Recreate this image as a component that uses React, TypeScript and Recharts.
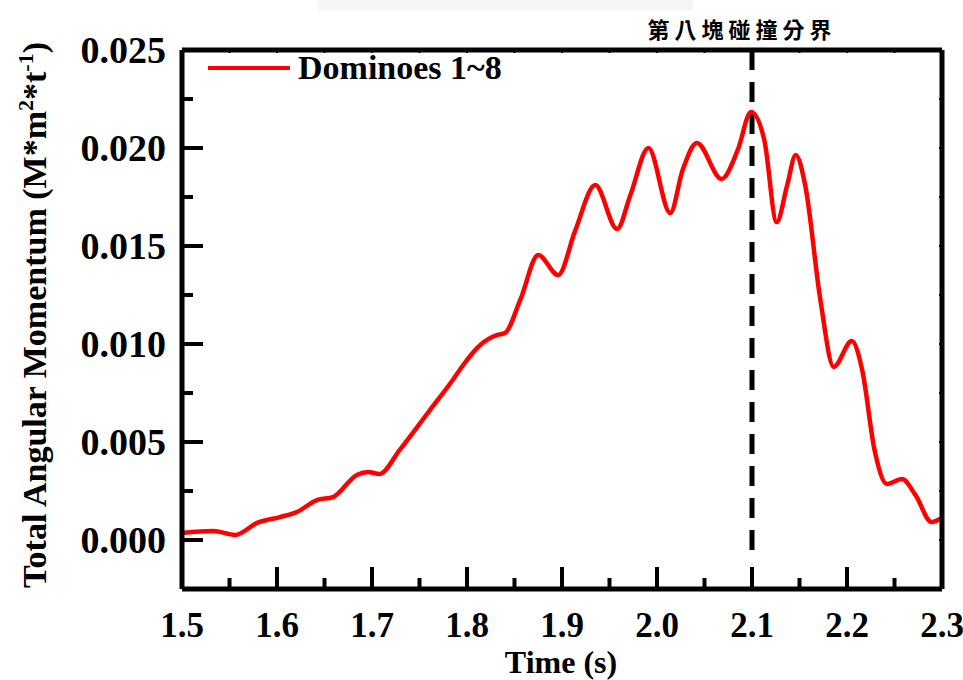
import React from "react";
import { LineChart, Line, XAxis, YAxis, ReferenceLine } from "recharts";

// time (s) and total angular momentum
const time = [
  1.5, 1.533, 1.556, 1.579, 1.603, 1.621, 1.642, 1.659, 1.684, 1.696, 1.708, 1.729,
  1.761, 1.785, 1.796, 1.814, 1.832, 1.84, 1.856, 1.875, 1.896, 1.914, 1.935, 1.958,
  1.972, 1.991, 2.014, 2.027, 2.042, 2.068, 2.085, 2.099, 2.113, 2.126, 2.137, 2.146,
  2.156, 2.172, 2.186, 2.205, 2.216, 2.229, 2.242, 2.258, 2.272, 2.289, 2.3,
];
const momentum = [
  0.00036, 0.00046, 0.00026, 0.00087, 0.00117, 0.00143, 0.00204, 0.00219, 0.00332, 0.00347, 0.00337, 0.00459,
  0.00663, 0.00816, 0.00893, 0.00995, 0.01046, 0.01056, 0.01224, 0.01454, 0.01352, 0.0158, 0.01811, 0.01587,
  0.0176, 0.02, 0.01668, 0.01888, 0.02026, 0.01842, 0.0199, 0.02184, 0.0204, 0.01622, 0.0181, 0.01964,
  0.0181, 0.01224, 0.00883, 0.01015, 0.00867, 0.00459, 0.00286, 0.00311, 0.0023, 0.00092, 0.00112,
];
const xTicks = [1.5, 1.55, 1.6, 1.65, 1.7, 1.75, 1.8, 1.85, 1.9, 1.95, 2.0, 2.05, 2.1, 2.15, 2.2, 2.25, 2.3];
const yTicks = [0, 0.0025, 0.005, 0.0075, 0.01, 0.0125, 0.015, 0.0175, 0.02, 0.0225, 0.025];
const boundaryTime = 2.1;
const seriesName = "Dominoes 1~8";
const boundaryLabel = "第八塊碰撞分界";

const data = time.map((t, i) => ({ t, v: momentum[i] }));

const FONT = '"Liberation Serif", "Times New Roman", serif';

const isMajorX = (v: number) => Math.round(v * 100) % 10 === 0;
const isMajorY = (v: number) => Math.round(v * 10000) % 50 === 0;

const BottomTick = (props: any) => {
  const { x, y, payload } = props;
  const major = isMajorX(payload.value);
  return (
    <g>
      <line x1={x} y1={y} x2={x} y2={y - (major ? 22 : 11)} stroke="#000" strokeWidth={4} />
      {major && (
        <text x={x} y={y + 48} textAnchor="middle" fontFamily={FONT} fontWeight="bold" fontSize={35} fill="#000">
          {payload.value.toFixed(1)}
        </text>
      )}
    </g>
  );
};

const LeftTick = (props: any) => {
  const { x, y, payload } = props;
  const major = isMajorY(payload.value);
  return (
    <g>
      <line x1={x} y1={y} x2={x + (major ? 21 : 11)} y2={y} stroke="#000" strokeWidth={4} />
      {major && (
        <text x={x - 16} y={y} dy="0.35em" textAnchor="end" fontFamily={FONT} fontWeight="bold" fontSize={38} fill="#000">
          {payload.value.toFixed(3)}
        </text>
      )}
    </g>
  );
};

const TopTick = (props: any) => {
  const { x, y } = props;
  return <line x1={x} y1={y} x2={x} y2={y + 3} stroke="#000" strokeWidth={2} />;
};

const RightTick = (props: any) => {
  const { x, y } = props;
  return <line x1={x} y1={y} x2={x - 3} y2={y} stroke="#000" strokeWidth={2} />;
};

const XTitle = (props: any) => {
  const { viewBox } = props;
  return (
    <text
      x={viewBox.x + viewBox.width / 2 - 1}
      y={viewBox.y + 84}
      textAnchor="middle"
      fontFamily={FONT}
      fontWeight="bold"
      fontSize={32}
      fill="#000"
    >
      Time (s)
    </text>
  );
};

const YTitle = () => {
  const cx = 46;
  const cy = 315;
  return (
    <text
      x={cx}
      y={cy}
      textAnchor="middle"
      transform={`rotate(-90, ${cx}, ${cy})`}
      fontFamily={FONT}
      fontWeight="bold"
      fontSize={34}
      fill="#000"
    >
      Total Angular Momentum (M*m
      <tspan dy={-13} fontSize={22}>2</tspan>
      <tspan dy={13}>*t</tspan>
      <tspan dy={-13} fontSize={22}>-1</tspan>
      <tspan dy={13}>)</tspan>
    </text>
  );
};

const BoundaryLabel = (props: any) => {
  const { viewBox } = props;
  return (
    <text
      x={viewBox.x - 10}
      y={viewBox.y - 12}
      textAnchor="middle"
      fontFamily='"Noto Sans CJK TC", "Noto Sans CJK SC", sans-serif'
      fontWeight="bold"
      fontSize={22}
      letterSpacing={5}
      fill="#000"
    >
      {boundaryLabel}
    </text>
  );
};

export default function App() {
  return (
    <div style={{ position: "absolute", left: 0, top: 0, width: 963, height: 680, background: "#fff" }}>
      <div style={{ position: "absolute", left: 318, top: 0, width: 375, height: 10, background: "#f5f5f5" }} />
      <LineChart width={963} height={680} data={data} margin={{ top: 49, right: 20, bottom: 31, left: 82 }}>
        <XAxis
          dataKey="t"
          type="number"
          domain={[1.5, 2.3]}
          ticks={xTicks}
          interval={0}
          height={60}
          tickSize={0}
          tickMargin={0}
          tickLine={false}
          axisLine={{ stroke: "#000", strokeWidth: 5 }}
          tick={<BottomTick />}
          label={<XTitle />}
        />
        <XAxis
          xAxisId="top"
          orientation="top"
          dataKey="t"
          type="number"
          domain={[1.5, 2.3]}
          ticks={xTicks}
          interval={0}
          height={1}
          tickSize={0}
          tickMargin={0}
          tickLine={false}
          axisLine={{ stroke: "#000", strokeWidth: 5 }}
          tick={<TopTick />}
        />
        <YAxis
          type="number"
          domain={[-0.0025, 0.025]}
          allowDataOverflow
          ticks={yTicks}
          interval={0}
          width={100}
          tickSize={0}
          tickMargin={0}
          tickLine={false}
          axisLine={{ stroke: "#000", strokeWidth: 5 }}
          tick={<LeftTick />}
          label={<YTitle />}
        />
        <YAxis
          yAxisId="right"
          orientation="right"
          type="number"
          domain={[-0.0025, 0.025]}
          allowDataOverflow
          ticks={yTicks}
          interval={0}
          width={1}
          tickSize={0}
          tickMargin={0}
          tickLine={false}
          axisLine={{ stroke: "#000", strokeWidth: 5 }}
          tick={<RightTick />}
        />
        <ReferenceLine
          segment={[
            { x: boundaryTime, y: 0.025 },
            { x: boundaryTime, y: -0.0008 },
          ]}
          stroke="#000"
          strokeWidth={5}
          strokeDasharray="20 12"
          label={<BoundaryLabel />}
        />
        <Line
          type="monotone"
          dataKey="v"
          name={seriesName}
          stroke="#ff0000"
          strokeWidth={4.5}
          dot={false}
          isAnimationActive={false}
        />
      </LineChart>
      <div style={{ position: "absolute", left: 208, top: 50, display: "flex", alignItems: "center" }}>
        <svg width={82} height={8}>
          <line x1={0} y1={4} x2={82} y2={4} stroke="#ff0000" strokeWidth={4} />
        </svg>
        <span style={{ marginLeft: 8, fontFamily: FONT, fontWeight: "bold", fontSize: 34, color: "#000", lineHeight: "36px" }}>
          {seriesName}
        </span>
      </div>
    </div>
  );
}
